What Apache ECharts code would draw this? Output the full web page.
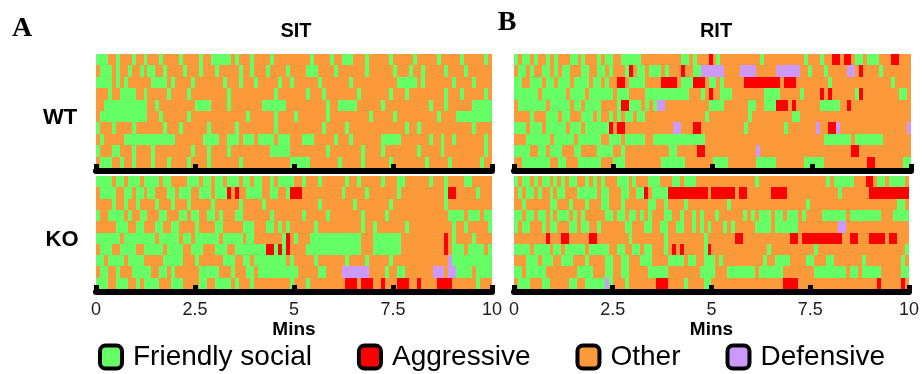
<!DOCTYPE html>
<html>
<head>
<meta charset="utf-8">
<script src="https://cdn.jsdelivr.net/npm/echarts@6/dist/echarts.min.js"></script>
<style>
html,body{margin:0;padding:0;background:#fff;}
#chart{width:922px;height:374px;}
</style>
</head>
<body>
<div id="chart"></div>
<script>
// Behaviour categories (legend order) and colours
const categories = ['Friendly social', 'Aggressive', 'Other', 'Defensive'];
const codes = ['F', 'A', 'o', 'D'];
const xTicks = [0, 2.5, 5, 7.5, 10];
const binMinutes = 0.1; // each character = 6 s

// Each row = one animal, 100 bins of 6 s (F friendly, A aggressive, o other, D defensive)
const sitWT = [
  "FFFooFoooF ooFoooFooo oFooooFooF FFFFoFoooF ooooFooooo ooooFooooF ooFFFoooFo ooooFooooo FoooooFooo ooFoooooFo",
  "oFFFoFooFo oFoFFooFoo ooFoooFooo FoooooFooF oooFooooFo oooFFFoooo FoooooooFo oooooFoooF ooFoooooFo oooFoooooo",
  "FFFFoFoFoo ooooFFFFoF ooooFooooo ooFoooFooo FoooooFooF ooooooFooo ooooFooooo ooooooFFFF FoFooooooo FooooFoooo",
  "oooFooFFFF ooFoooooFo oooFoooooo oooFoooooo oooooFoooo oooFoooFoo ooooooFooo ooooFoooFo ooooooooFo ooFoooooFo",
  "ooFFFFFFFF FFFooFoooo oooooFFFFo oooFoooooo ooFFFFFFoo ooooooooFo oFFFFFoooo ooFooooooo ooooFoooFo oooooFFFFF",
  "oFFFFFFFFF FFFoooFooo oooFoooooo ooooooooFo oooooFoooo FoooooooFo oooooooooF oooooFoooo ooooooFooo oFFFFFFFFF",
  "FoooFooooF oooooooFoo oFooooooFo oooooFoooo oooooFoooo oooooooFoo oooFoooooo ooooooooFo oFoooooooo oooooFoooo",
  "oFoooooFFF FFFFFFFFFF oooooooFFF FooFFFoFFF oFFFFoFFFo ooFFFooooo FoooFooooo ooFFFFFooo ooooFooFoo FoooooooFo",
  "FoooFFoooF ooooFooooo ooooFoooFo oooFoooooo ooooFFFFFo ooooooooFo oooooooFoo ooFooooooo oFoooooFoo ooooooooFo",
  "oFFFooFooF ooooFoooFo oooFooooFo ooooooFooo oooooooooF FFFFoooooo oFoooooFoo ooooFooooo oooFoooooF oooooooFoo"
];
const sitKO = [
  "FFFFoFFoFF FoFFFFoFFo oooFFFoFFo FFoFFFoFFo FFooFoFFFF ooFoooFooo oooFooFooo ooFoooFFoo ooooFoooFo oooFFooooo",
  "oFFFFooFFo FFoFFoooFF oFFFooFFFo FFFAoAooFF FFooFFooFA AAoooooooo ooFoooooFo ooooooFooo ooooooooFA AoooooFooo",
  "ooooFooFoo FooooFoooF oooFoooooF ooooooFooo ooFooooooo ooooooFooo oooooFoooo ooooFooooo ooooooooFo oooooooooo",
  "FooFFFFoFo oFFoooFFoo oFFoFFooFF oFoooFFooo ooooFooooo ooFoooooFo oooooooFoo oooFoooooo oooooooooF FFFoFFFoFF",
  "oooooFFFoo FFoooFFooF FooooFoooo FFoooooFFF oooFFoFoFo oooooFoooo oooooooFoo FoooooooFo oooooooooo FooFoooooF",
  "FFFFFFoFFF FFFFFoFFFF FoFFoFFFFF FoFFFFFoFF oooooooFAo FoooFFFFFF FFFFFFFooo FFFFFFFooo ooooooooAo FooooFoooo",
  "oFFFooFFFF ooFFFFFoFF FFooFFFooo FFFooFFFFF FFFAAFAFAo oooFFFFFFF FFFFFFFooo FFFFFFFooo ooooooooAo FFFoFFFFoF",
  "FFoFFFFoFF FFoooooFFF FFoooFoooo ooFFFooFFo FFFFFFFFoF oooooFoooo oooFooooFo ooooFooooo oooooooooD FFFFFFFFFF",
  "oFFooFoooF FFFFooFFoF ooooooFFFF FoooFoooFF oFFFFFFFFF FoooooFFoo ooDDDDDDDo oooFooFFoo oooooDDDoD DFFFFoFFFF",
  "FFFooFFFoo FoFFFFoooF FFooooFFoo FFFFoFoooF oooooooooF oooFoooooo oooAAAoAAA ooAoooAAAo oAooooAAAA ooooooFooo"
];
const ritWT = [
  "FoFFoFooFo FoooFFoFoo oFoFFooFFF FFoooooooo ooFFoFoooA oFoooooooo ooFooooooo oooFoooFoo AAoAAoFFoF FFoooAAooo",
  "oFFoFooFFo FoFFoooFFo oFFoFoooFA oFFoFFFoFo ooAooFFDDD DDDooooDDD DoooooDDDD DDooFoooFo ooooDDoAoo ooFooooooo",
  "FFooFFFoFF oFFFoFFFFo FFoFooAAoF FFFooooAAA AoFFFAAAoF FoFoooooAA AAAAAAAoAA AooooooooF oooooooooo oooooFoooo",
  "FFFFFFoFFF FFFoFFFFoF FFFFFoFFFo oooFFFFFFF FFFFoooFoA ooFFFooooo oooFFFFooo ooFooooAoA ooooooFAoo oooooooFFo",
  "oFFFFFFFoF FFFFoFFoFF FFooooFAAF FFoFoFDDoo oooooooooF FFFooooooF FooFFFAAAo AooooooFFF FFooAooooo oooooooooo",
  "ooooFoooFF FoFFoooFFF oFooFoFoFF oFFooooooo ooooooooFo oooooooooF oooooooooo FFoooooooo oooooooooo oooooooooo",
  "FFFoFFFoFF FFFoFFFoFF FFFFAoAAoo oooooooooo DDoooAAooo ooooooooFo ooooooooFo ooooooDooA ADoooooooo oooooooooD",
  "oooFFFFFFo FFFFFoFFFF FFooFFFoFF FFFooFFFFF FFFFFFFFoo oooooooooo oooooooooo ooooooooFF FFFFFoFFFF FFFooooooo",
  "FFFFooFFoF FFoooFFooo oFFFFooFoo oooooooooF FoooooAAoo oooooooooo oDoooooooo oooooooooo oooooAAooo oooooooooo",
  "ooFFFFFFFo oFFoooFFFF FFoooFFFoo oooooooFFF FFFooooooo FFFFoooooo oFFFFFoooo oooFFFFFoo oooooooooA AoooooooFF"
];
const ritKO = [
  "FoFFoFoFFo FoFoFFooFo FoFoooFFFo FoooFFFooo FFoFFFoooo oooooooooo oFoooooooo oooooooooF oFFFFFoooA AoFFoFFFFo",
  "oFoFFoFooF oFFoooFFFF FoFFoooFFo oFFAoFFFFA AAAAAAAAAo AAAAAAoAAo oooooAAAAo oooooooooo ooFooooooo AAAAAAAAAA",
  "ooFooooooF FoooFoooFo ooFFoooFoo ooooFFooFo oooFoooooo ooooFooooo oooooooooo ooooFooooo oooooooooo oooooooFFo",
  "FFoFFoFFoF oFFFoFoFoo oooFFoFFoF FoFoFoooFF ooFooFoFoo oFooooooFo FoFFFoFFoF FFoFooooFF FFFFoFFFFF FFFoooFFFF",
  "FoFFoooFoF FoooFFoFFo oFooooooFF oooFFooFFo oFFooFoFoF oooFoFoooo oFFFFoFFFF FFoooooooo ooDDoooooo oooooooooo",
  "ooooooooAo ooAAoooooA AooooooooF ooooooooFo ooooooooFo ooooooAAoo oooooooooo AAoAAAAAAA AAAooAAooo AAAAoAAooo",
  "FFFFoFFFFo FFoFFFFFoF FFFFooFFoo FFoFFoooFo AoAoooooFA oooooooooo ooooFooooo ooooooFooo oooooooooo oooooooooF",
  "oooFFFoFFF ooFFFoooFo oooFFooFFo ooFFFooooF FFFoFFooFF FoFooooooo oooFooFFFF ooooFFoooF FoooooooFo ooooooooFo",
  "FFoFFFFFoo ooooooFFFF oooFFooFFo ooooFFFFFo oooooooFFF FoooFFFFFF FoFFFFFFoo ooooooFFFF FFFFoFFoFF FFFoooooFF",
  "oFFFoooFFo ooooFFooFF FFFDFoooFo ooooooAAAo oooFooooFF oooooooooo ooooooooAA AAoooooooo oooooooooo ooAoooooAo"
];

const COLORS = ['#66ff66', '#ff0000', '#fc9a3b', '#cc99ff'];
const FONT = '"Liberation Sans", Arial, sans-serif';

function toSegments(rows) {
  const out = [];
  rows.forEach((r, ri) => {
    const s = r.replace(/\s+/g, '');
    let start = 0;
    for (let i = 1; i <= s.length; i++) {
      if (i === s.length || s[i] !== s[start]) {
        out.push([ri, start * binMinutes, i * binMinutes, codes.indexOf(s[start])]);
        start = i;
      }
    }
  });
  return out;
}

function renderItem(params, api) {
  const row = api.value(0);
  const a = api.coord([api.value(1), row]);
  const b = api.coord([api.value(2), row + 1]);
  const x0 = Math.round(a[0]), x1 = Math.round(b[0]);
  const y0 = Math.round(Math.min(a[1], b[1])), y1 = Math.round(Math.max(a[1], b[1]));
  const cs = params.coordSys;
  const rect = echarts.graphic.clipRectByRect(
    { x: x0, y: y0, width: x1 - x0, height: y1 - y0 },
    { x: cs.x, y: cs.y, width: cs.width, height: cs.height }
  );
  if (!rect) return null;
  return { type: 'rect', shape: rect, style: { fill: COLORS[api.value(3)] } };
}

const panels = [sitWT, sitKO, ritWT, ritKO];
const grids = [
  { left: 96, top: 54, width: 396, height: 114 },
  { left: 96, top: 176, width: 396, height: 113 },
  { left: 514, top: 54, width: 397, height: 114 },
  { left: 514, top: 176, width: 397, height: 113 }
];

const xAxes = grids.map((g, i) => {
  const isKO = (i % 2 === 1);
  return {
    type: 'value', gridIndex: i, position: 'bottom',
    min: xTicks[0], max: xTicks[xTicks.length - 1], interval: 2.5,
    offset: 3, z: 10,
    axisLine: { show: true, onZero: false, lineStyle: { color: '#000', width: 6 } },
    axisTick: { show: true, inside: true, length: 7, lineStyle: { color: '#000', width: 5 } },
    splitLine: { show: false },
    axisLabel: { show: isKO, fontSize: 18, color: '#222', fontFamily: FONT, margin: 9 },
    name: isKO ? 'Mins' : '',
    nameLocation: 'middle', nameGap: 28,
    nameTextStyle: { fontWeight: 'bold', fontSize: 19, color: '#000', fontFamily: FONT }
  };
});
const yAxes = grids.map((g, i) => ({
  type: 'value', gridIndex: i, min: 0, max: 10, inverse: true, show: false
}));

const series = panels.map((rows, i) => ({
  type: 'custom', xAxisIndex: i, yAxisIndex: i, silent: true,
  renderItem: renderItem, data: toSegments(rows)
}));
categories.forEach((n, i) => {
  series.push({ name: n, type: 'custom', xAxisIndex: 0, yAxisIndex: 0, data: [],
    renderItem: () => null, itemStyle: { color: COLORS[i] } });
});

const txt = (text, x, y, size, family) => ({
  type: 'text', x: x, y: y, z: 100,
  style: { text: text, fontSize: size, fontWeight: 'bold', fontFamily: family || FONT,
    fill: '#000', align: 'center', verticalAlign: 'middle' }
});

const chart = echarts.init(document.getElementById('chart'), null, { renderer: 'canvas' });
chart.setOption({
  backgroundColor: '#fff',
  animation: false,
  grid: grids,
  xAxis: xAxes,
  yAxis: yAxes,
  series: series,
  legend: {
    left: 98, top: 343, padding: 0, itemWidth: 22, itemHeight: 23, itemGap: 45,
    selectedMode: false,
    textStyle: { fontSize: 28, fontFamily: FONT, color: '#000', padding: [0, 0, 0, 6] },
    data: categories.map((n, i) => ({ name: n, icon: 'roundRect',
      itemStyle: { color: COLORS[i], borderColor: '#000', borderWidth: 4 } }))
  },
  graphic: [
    txt('A', 22, 29, 28, '"Liberation Serif", serif'),
    txt('SIT', 296, 31, 20),
    txt('B', 507, 23, 28, '"Liberation Serif", serif'),
    txt('RIT', 716, 31, 20),
    txt('WT', 60, 118, 22),
    txt('KO', 62, 240, 22)
  ]
});
</script>
</body>
</html>
